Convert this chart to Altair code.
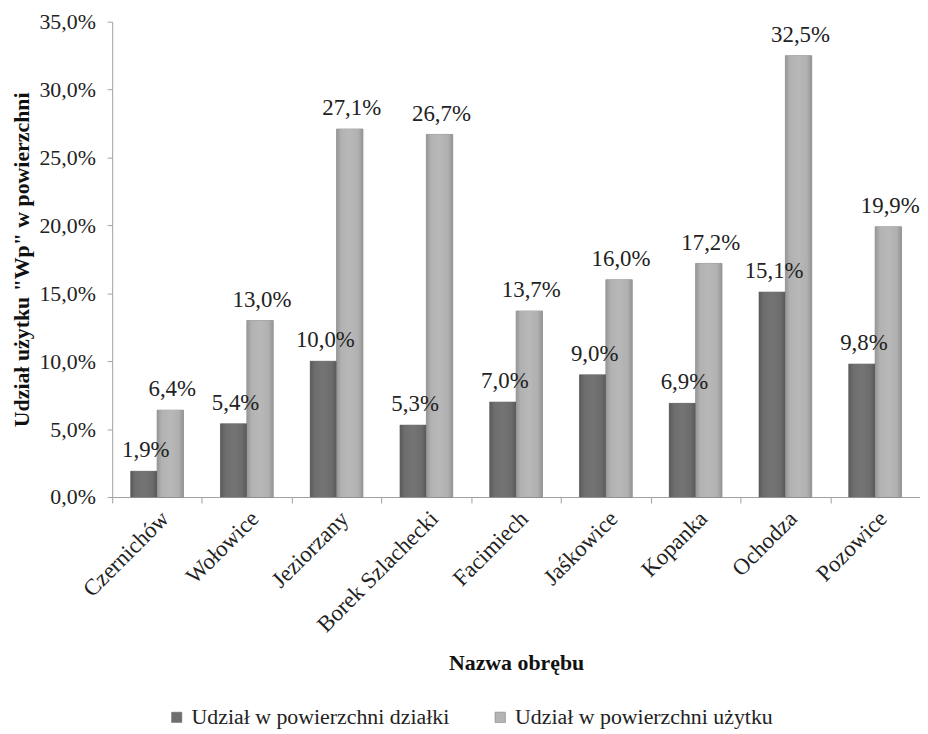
import altair as alt
import pandas as pd

categories = ["Czernichów", "Wołowice", "Jeziorzany", "Borek Szlachecki", "Facimiech",
              "Jaśkowice", "Kopanka", "Ochodza", "Pozowice"]
series_names = ["Udział w powierzchni działki", "Udział w powierzchni użytku"]
dzialki = [1.9, 5.4, 10.0, 5.3, 7.0, 9.0, 6.9, 15.1, 9.8]
uzytku = [6.4, 13.0, 27.1, 26.7, 13.7, 16.0, 17.2, 32.5, 19.9]
y_ticks = [0, 5, 10, 15, 20, 25, 30, 35]

rows = []
for c, a, b in zip(categories, dzialki, uzytku):
    rows.append({"obreb": c, "seria": series_names[0], "v": a})
    rows.append({"obreb": c, "seria": series_names[1], "v": b})
df = pd.DataFrame(rows)

FONT = "Times New Roman, Liberation Serif, serif"

grad_dark = {"gradient": "linear", "x1": 0, "y1": 0, "x2": 1, "y2": 0,
             "stops": [{"offset": 0, "color": "#5a5a5a"}, {"offset": 0.18, "color": "#6e6e6e"},
                       {"offset": 0.5, "color": "#747474"}, {"offset": 0.82, "color": "#6c6c6c"},
                       {"offset": 1, "color": "#585858"}]}
grad_light = {"gradient": "linear", "x1": 0, "y1": 0, "x2": 1, "y2": 0,
              "stops": [{"offset": 0, "color": "#969696"}, {"offset": 0.18, "color": "#b2b2b2"},
                        {"offset": 0.5, "color": "#b8b8b8"}, {"offset": 0.82, "color": "#b0b0b0"},
                        {"offset": 1, "color": "#939393"}]}

x_enc = alt.X("obreb:N", sort=categories, title="Nazwa obrębu",
              scale=alt.Scale(paddingInner=0, paddingOuter=0),
              axis=alt.Axis(labelAngle=-45, tickBand="extent", labelFont=FONT, labelFontSize=23,
                            labelColor="#222222", titleFont=FONT, titleFontSize=22,
                            titleFontWeight="bold", titleColor="#111111", titlePadding=16,
                            domainColor="#a0a0a0", tickColor="#a0a0a0", tickSize=6,
                            labelPadding=4, grid=False))
xo_enc = alt.XOffset("seria:N", sort=series_names,
                     scale=alt.Scale(paddingInner=0, paddingOuter=0.7))
y_enc = alt.Y("v:Q", title='Udział użytku "Wp" w powierzchni',
              scale=alt.Scale(domain=[0, 35], nice=False),
              axis=alt.Axis(values=y_ticks, grid=False,
                            labelExpr="replace(format(datum.value, '.1f'), '.', ',') + '%'",
                            labelFont=FONT, labelFontSize=22, labelColor="#222222",
                            titleFont=FONT, titleFontSize=22, titleFontWeight="bold",
                            titleColor="#111111", titlePadding=6,
                            domainColor="#a0a0a0", tickColor="#a0a0a0", tickSize=5,
                            labelPadding=12))

base = alt.Chart(df)

bars = base.mark_bar(stroke="#5f5f5f", strokeWidth=0.5).encode(
    x=x_enc, xOffset=xo_enc, y=y_enc,
    color=alt.Color("seria:N", sort=series_names,
                    scale=alt.Scale(domain=series_names, range=["#6e6e6e", "#b4b4b4"]),
                    legend=alt.Legend(orient="none", direction="horizontal", title=None,
                                      legendX=54, legendY=690, symbolType="square",
                                      symbolSize=110, symbolStrokeWidth=0.5,
                                      symbolStrokeColor="#777777",
                                      labelFont=FONT, labelFontSize=22, labelColor="#222222",
                                      columnPadding=40, labelOffset=4, labelLimit=400)),
)

grad_bars = base.mark_bar().encode(
    x=alt.X("obreb:N", sort=categories),
    xOffset=alt.XOffset("seria:N", sort=series_names),
    y=alt.Y("v:Q"),
    color=alt.condition(alt.datum.seria == series_names[0],
                        alt.value(grad_dark), alt.value(grad_light)),
)

labels = base.transform_calculate(
    lab="replace(format(datum.v, '.1f'), '.', ',') + '%'"
).mark_text(font=FONT, fontSize=23, color="#222222", baseline="alphabetic", dy=-14, dx=2).encode(
    x=alt.X("obreb:N", sort=categories),
    xOffset=alt.XOffset("seria:N", sort=series_names),
    y=alt.Y("v:Q"),
    text="lab:N",
)

chart = alt.layer(bars, grad_bars, labels).properties(
    width=814, height=479, background="white",
    autosize=alt.AutoSizeParams(type="none"),
    padding={"left": 105, "top": 11, "right": 0, "bottom": 236},
).configure(font=FONT).configure_view(stroke=None)

chart.save("out.html", embed_options={"renderer": "svg", "actions": False})
